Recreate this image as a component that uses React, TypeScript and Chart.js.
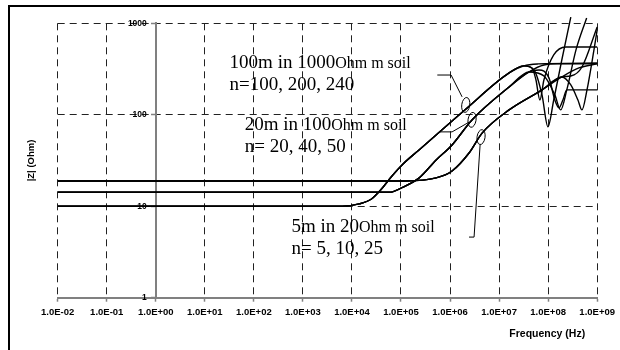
import React, { useEffect, useRef } from "react";
import { Chart, registerables } from "chart.js";

Chart.register(...registerables);

// ---------- axis ticks & titles ----------
const xTickValues = [1e-2, 1e-1, 1e0, 1e1, 1e2, 1e3, 1e4, 1e5, 1e6, 1e7, 1e8, 1e9];
const yTickValues = [1, 10, 100, 1000];
const xTitle = "Frequency (Hz)";
const yTitle = "|Z| (Ohm)";

// ---------- curve 1: 100m in 1000 Ohm m soil (n = 100, 200, 240) ----------
const c1BaseFreq = [1e-2, 6.3e3, 1.4e4, 2.5e4, 4e4, 6.3e4, 1.1e5, 2.3e5, 2e6, 1.6e7, 3.2e7];
const c1BaseZ = [10, 10, 10.6, 12, 15.4, 20.9, 29, 41, 113, 287, 342];
const c1aFreq = [6.3e7, 1e8, 1e9];
const c1aZ = [360, 362, 368];
const c1bFreq = [5.15e7, 7.5e7, 9.9e7, 1.3e8, 1.9e8, 2.9e8];
const c1bZ = [309, 165, 74, 145, 397, 1170];
const c1cFreq = [4.7e7, 5.65e7, 6.8e7, 8.2e7, 1.3e8, 2.3e8, 1e9];
const c1cZ = [325, 240, 145, 240, 451, 551, 551];

// ---------- curve 2: 20m in 100 Ohm m soil (n = 20, 40, 50) ----------
const c2BaseFreq = [1e-2, 5.8e4, 1e5, 2.35e5, 5.2e5, 1.1e6, 2.8e6, 1.6e7, 4.1e7];
const c2BaseZ = [14.2, 14.2, 15.8, 20.4, 32, 46.8, 87.7, 201, 294];
const c2aFreq = [8.2e7, 1.66e8, 1e9];
const c2aZ = [350, 360, 362];
const c2bFreq = [8.2e7, 1.37e8, 1.8e8, 2.4e8, 3.7e8, 6.1e8];
const c2bZ = [266, 165, 113, 187, 512, 1145];
const c2cFreq = [6.5e7, 1.04e8, 1.37e8, 1.66e8, 2e8, 2.4e8, 1e9];
const c2cZ = [309, 253, 145, 119, 145, 187, 187];

// ---------- curve 3: 5m in 20 Ohm m soil (n = 5, 10, 25) ----------
const c3BaseFreq = [1e-2, 1.28e5, 5.2e5, 1.1e6, 2.44e6, 4.5e6, 1.6e7, 7.5e7, 1.9e8];
const c3BaseZ = [18.9, 18.9, 20.4, 24.3, 38.2, 63, 113, 187, 259];
const c3aFreq = [4.25e8, 1e9];
const c3aZ = [325, 360];
const c3bFreq = [2.9e8, 4.05e8, 4.9e8, 6.2e8, 8.6e8, 1e9];
const c3bZ = [212, 145, 113, 187, 512, 846];
const c3cFreq = [2.9e8, 4.9e8, 1e9];
const c3cZ = [265, 333, 912];

// ---------- annotation texts (anchored in data units: Hz, Ohm) ----------
const labelBlocks = [
  { f: 32, z: 325, main: "100m in 1000", unit: "Ohm m soil", second: "n=100, 200, 240" },
  { f: 65, z: 68, main: "20m in 100", unit: "Ohm m soil", second: "n= 20, 40, 50" },
  { f: 585, z: 5.2, main: "5m in 20", unit: "Ohm m soil", second: "n= 5, 10, 25" },
];

const callouts = [
  { path: [[5.5e5, 272], [1.05e6, 272], [1.76e6, 157]], ellipse: [2.09e6, 128] },
  { path: [[6e5, 65], [1.1e6, 65], [2.44e6, 83]], ellipse: [2.81e6, 88] },
  { path: [[2.44e6, 4.6], [3.09e6, 4.6], [4.1e6, 47]], ellipse: [4.29e6, 57] },
];

const toPoints = (f: number[], z: number[]) => f.map((v, i) => ({ x: v, y: z[i] }));

const fmtE = (v: number) => {
  const e = Math.round(Math.log10(v));
  return "1.0E" + (e < 0 ? "-" : "+") + String(Math.abs(e)).padStart(2, "0");
};

const annotationPlugin = {
  id: "annotations",
  afterDatasetsDraw(chart: any) {
    const { ctx, chartArea } = chart;
    const xs = chart.scales.x;
    const ys = chart.scales.y;
    const X = (f: number) => xs.getPixelForValue(f);
    const Y = (z: number) => ys.getPixelForValue(z);
    ctx.save();
    ctx.fillStyle = "#000";
    ctx.strokeStyle = "#000";

    // y tick labels, placed left of the y axis (which crosses at x = 1 Hz)
    ctx.font = "bold 8.5px 'Liberation Sans'";
    ctx.textAlign = "right";
    ctx.textBaseline = "middle";
    const axisX = X(1);
    for (const t of ys.ticks) {
      ctx.fillText(String(t.value), axisX - 9, Y(t.value));
    }

    ctx.textBaseline = "alphabetic";
    ctx.textAlign = "left";
    for (const b of labelBlocks) {
      const x0 = X(b.f);
      const y0 = Y(b.z);
      ctx.font = "19px 'Liberation Serif'";
      ctx.fillText(b.main, x0, y0);
      const w = ctx.measureText(b.main).width;
      ctx.font = "16px 'Liberation Serif'";
      ctx.fillText(b.unit, x0 + w, y0);
      ctx.font = "19px 'Liberation Serif'";
      ctx.fillText(b.second, x0, y0 + 22);
    }
    ctx.lineWidth = 1;
    for (const c of callouts) {
      ctx.beginPath();
      c.path.forEach((p, i) => {
        const px = X(p[0]);
        const py = Y(p[1]);
        if (i === 0) ctx.moveTo(px, py);
        else ctx.lineTo(px, py);
      });
      ctx.stroke();
      ctx.beginPath();
      ctx.ellipse(X(c.ellipse[0]), Y(c.ellipse[1]), 4, 7.5, 0.15, 0, Math.PI * 2);
      ctx.stroke();
    }
    // axis titles
    ctx.font = "bold 10.5px 'Liberation Sans'";
    ctx.textAlign = "right";
    ctx.fillText(xTitle, chartArea.right - 12, chartArea.bottom + 39);
    ctx.translate(chartArea.left - 26, (chartArea.top + chartArea.bottom) / 2);
    ctx.rotate(-Math.PI / 2);
    ctx.textAlign = "center";
    ctx.textBaseline = "middle";
    ctx.font = "bold 9.5px 'Liberation Sans'";
    ctx.fillText(yTitle, 0, 0);
    ctx.restore();
  },
};

export default function App() {
  const ref = useRef<HTMLCanvasElement | null>(null);

  useEffect(() => {
    if (!ref.current) return;
    const line = (data: { x: number; y: number }[]) => ({
      data,
      borderColor: "#000",
      borderWidth: 1.4,
      pointRadius: 0,
      fill: false,
      cubicInterpolationMode: "monotone" as const,
      clip: { left: 0, top: 10, right: 6, bottom: 0 },
    });
    const datasets = [
      line(toPoints([...c1BaseFreq, ...c1aFreq], [...c1BaseZ, ...c1aZ])),
      line(toPoints([...c1BaseFreq, ...c1bFreq], [...c1BaseZ, ...c1bZ])),
      line(toPoints([...c1BaseFreq, ...c1cFreq], [...c1BaseZ, ...c1cZ])),
      line(toPoints([...c2BaseFreq, ...c2aFreq], [...c2BaseZ, ...c2aZ])),
      line(toPoints([...c2BaseFreq, ...c2bFreq], [...c2BaseZ, ...c2bZ])),
      line(toPoints([...c2BaseFreq, ...c2cFreq], [...c2BaseZ, ...c2cZ])),
      line(toPoints([...c3BaseFreq, ...c3aFreq], [...c3BaseZ, ...c3aZ])),
      line(toPoints([...c3BaseFreq, ...c3bFreq], [...c3BaseZ, ...c3bZ])),
      line(toPoints([...c3BaseFreq, ...c3cFreq], [...c3BaseZ, ...c3cZ])),
    ];
    const gridCommon = {
      color: "#222",
      lineWidth: 1,
      tickLength: 4,
      tickColor: "#808080",
      tickWidth: 1.5,
      tickBorderDash: [],
    };
    const borderCommon = { display: true, color: "#808080", width: 2, dash: [7, 5] };
    const chart = new Chart(ref.current, {
      type: "line",
      data: { datasets: datasets as any },
      options: {
        responsive: false,
        animation: false,
        devicePixelRatio: 1,
        parsing: false as any,
        layout: { padding: { left: 57.7, right: 21.7, top: 23.3, bottom: 0 } },
        plugins: {
          legend: { display: false },
          tooltip: { enabled: false },
          title: { display: false },
        },
        scales: {
          x: {
            type: "logarithmic",
            position: "bottom",
            min: 1e-2,
            max: 1e9,
            afterBuildTicks: (s: any) => {
              s.ticks = xTickValues.map((v) => ({ value: v }));
            },
            afterFit: (s: any) => {
              s.height = 52.3;
            },
            ticks: {
              callback: (v: any) => fmtE(Number(v)),
              font: { family: "'Liberation Sans'", weight: "bold", size: 9.5 },
              color: "#000",
              padding: 5,
              maxRotation: 0,
              autoSkip: false,
            },
            grid: gridCommon as any,
            border: borderCommon as any,
          },
          y: {
            type: "logarithmic",
            position: { x: 1 } as any,
            min: 1,
            max: 1000,
            afterBuildTicks: (s: any) => {
              s.ticks = yTickValues.map((v) => ({ value: v }));
            },
            ticks: {
              display: false,
              autoSkip: false,
            },
            grid: gridCommon as any,
            border: borderCommon as any,
          },
        },
      },
      plugins: [annotationPlugin],
    });
    return () => chart.destroy();
  }, []);

  return (
    <div style={{ position: "fixed", left: 0, top: 0, width: 620, height: 350, background: "#fff" }}>
      <canvas ref={ref} width={620} height={350} style={{ display: "block", width: 620, height: 350 }} />
      <div
        style={{
          position: "absolute",
          left: 8,
          top: 5,
          right: 0,
          bottom: 0,
          borderTop: "2px solid #000",
          borderLeft: "2px solid #000",
          pointerEvents: "none",
        }}
      />
    </div>
  );
}
